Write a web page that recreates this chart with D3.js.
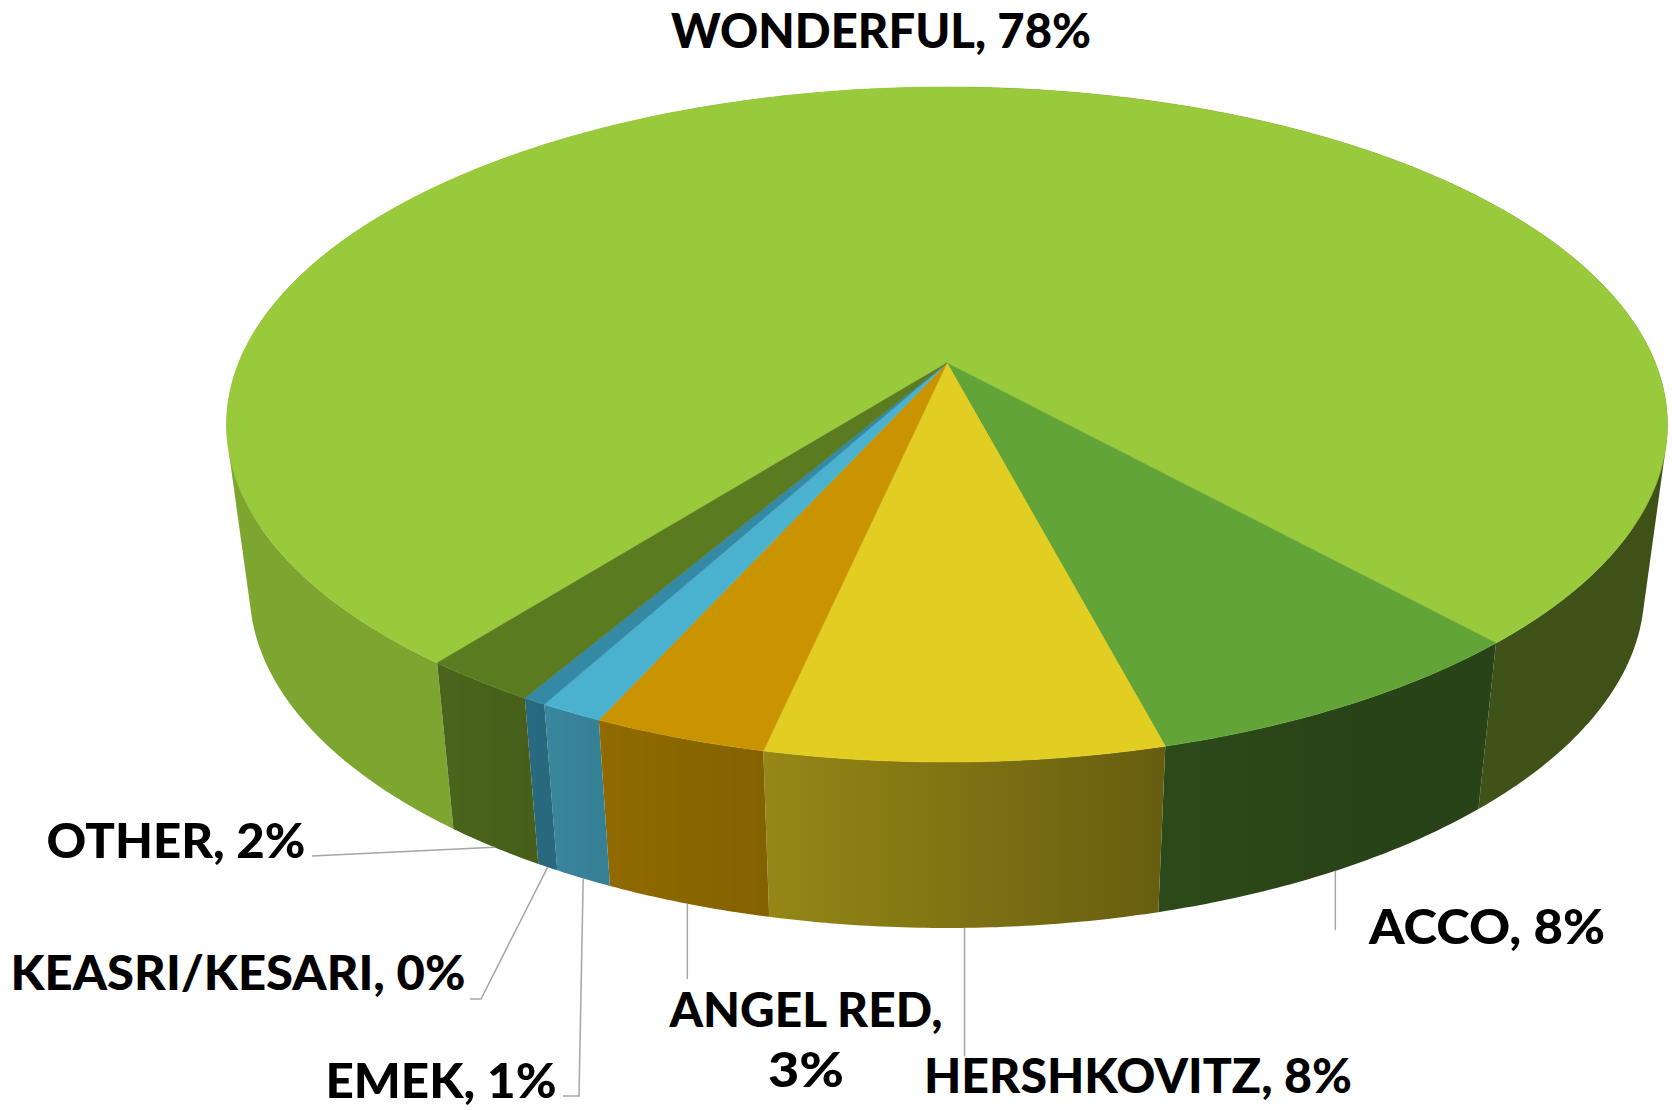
<!DOCTYPE html>
<html>
<head>
<meta charset="utf-8">
<script src="https://cdn.jsdelivr.net/npm/d3@7"></script>
<style>
  body { margin: 0; background: #fff; }
  svg { display: block; }
  text { font-family: Lato, "Noto Sans", sans-serif; font-weight: 900; fill: #000; }
</style>
</head>
<body>
<script>
// data
var categories = ["WONDERFUL", "ACCO", "HERSHKOVITZ", "ANGEL RED", "EMEK", "KEASRI/KESARI", "OTHER"];
var shares = [77.7, 7.6, 7.5, 3.3, 1.2, 0.45, 2.2];
var topColors = ["#99CA3B", "#62A437", "#E2CD22", "#C99400", "#4AB1CE", "#3489A5", "#5B7B21"];

var w = 1672, h = 1110;
var svg = d3.select("body").append("svg").attr("width", w).attr("height", h);
var defs = svg.append("defs");

// perspective of the 3d pie (fitted to the reference)
var cx = 947, cy = 363, A = 708.4, B = 326.3, k = 0.1822;
var wallDrop = 166, wallScale = 0.968;
var firstSlice = 128.06; // degrees, clockwise from 3 o'clock

function topPt(a) {
    var t = a - Math.PI / 2;
    var u = Math.cos(t), v = Math.sin(t), d = 1 - k * v;
    return [cx + A * u / d, cy + B * v / d];
}
function botPt(a) {
    var p = topPt(a);
    return [cx + wallScale * (p[0] - cx), p[1] + wallDrop];
}

// side shading: light from the left
var shade = d3.scaleLinear()
    .domain([-90, 60, 75, 102, 114, 119, 128, 270])
    .range([0.40, 0.41, 0.45, 0.66, 0.72, 0.77, 0.82, 0.82])
    .clamp(true);

function darken(col, f) {
    var c = d3.rgb(col);
    return d3.rgb(c.r * f, c.g * f, c.b * f).formatHex();
}
function toDeg(a) { // d3 angle -> degrees from 3 o'clock in [-90, 270)
    return ((a * 180 / Math.PI - 90) % 360 + 450) % 360 - 90;
}

var data = categories.map(function(c, i) { return { name: c, value: shares[i], color: topColors[i] }; });
var start = (firstSlice + 90) * Math.PI / 180;
var pie = d3.pie().sort(null).value(function(d) { return d.value; })
    .startAngle(start).endAngle(start + 2 * Math.PI);
var arcs = pie(data);
var total = d3.sum(shares);
var pct = d3.format(".0%");
var line = d3.line();

// wall pieces: split each slice where it passes the back (12 o'clock)
var pieces = [];
arcs.forEach(function(a, i) {
    var cuts = [a.startAngle];
    var turn = Math.ceil(a.startAngle / (2 * Math.PI)) * 2 * Math.PI;
    while (turn < a.endAngle) { if (turn > a.startAngle) cuts.push(turn); turn += 2 * Math.PI; }
    cuts.push(a.endAngle);
    for (var j = 0; j < cuts.length - 1; j++) pieces.push({ a0: cuts[j], a1: cuts[j + 1], color: a.data.color, id: "wall" + i + "_" + j });
});

function arcAngles(a0, a1, stepDeg) {
    var n = Math.max(2, Math.ceil((a1 - a0) / (stepDeg * Math.PI / 180)));
    return d3.range(n + 1).map(function(i) { return a0 + (a1 - a0) * i / n; });
}

pieces.forEach(function(p) {
    // gradient along x, sampled on the visible front part only
    var samples = d3.range(41).map(function(i) { return p.a0 + (p.a1 - p.a0) * i / 40; })
        .filter(function(a) { var d = toDeg(a); return d > -12 && d < 192; });
    if (samples.length < 2) samples = [p.a0, p.a1];
    var xs = samples.map(function(a) { return topPt(a)[0]; });
    var x0 = d3.min(xs), x1 = d3.max(xs);
    if (x1 - x0 < 1) x1 = x0 + 1;
    var stops = samples.map(function(a, i) {
        return { off: (xs[i] - x0) / (x1 - x0), col: darken(p.color, shade(toDeg(a))) };
    }).sort(function(s, t) { return s.off - t.off; });
    var g = defs.append("linearGradient").attr("id", p.id)
        .attr("gradientUnits", "userSpaceOnUse")
        .attr("x1", x0).attr("x2", x1).attr("y1", 0).attr("y2", 0);
    g.selectAll("stop").data(stops).enter().append("stop")
        .attr("offset", function(s) { return s.off; })
        .attr("stop-color", function(s) { return s.col; });
});

// each wall piece is a union of small quads, all wound the same way
function wallPath(p) {
    var as = arcAngles(p.a0, p.a1, 0.5), d = "";
    for (var i = 0; i < as.length - 1; i++) {
        var q = [topPt(as[i]), topPt(as[i + 1]), botPt(as[i + 1]), botPt(as[i])];
        if (d3.polygonArea(q) < 0) q.reverse();
        d += line(q) + "Z";
    }
    return d;
}

svg.append("g").selectAll("path")
    .data(pieces)
    .enter().append("path")
    .attr("d", wallPath)
    .attr("fill-rule", "nonzero")
    .attr("fill", function(p) { return "url(#" + p.id + ")"; });

// top faces
svg.append("g").selectAll("path")
    .data(arcs)
    .enter().append("path")
    .attr("d", function(a) {
        return line([[cx, cy]].concat(arcAngles(a.startAngle, a.endAngle, 0.25).map(topPt))) + "Z";
    })
    .attr("fill", function(a) { return a.data.color; })
    .attr("stroke", function(a) { return a.data.color; })
    .attr("stroke-width", 0.6);

// label layout (one entry per category)
var labelLayout = [
    { x: 881, y: 48, width: 420, leader: null },
    { x: 1487, y: 944, width: 236, leader: [930] },
    { x: 1138, y: 1093, width: 428, leader: [1056] },
    { x: 806, y: 1027, width: 273, width2: 76, leader: [979] },
    { x: 441, y: 1098, width: 231, leader: [[579, 1096], [563, 1096]] },
    { x: 238, y: 990, width: 455, leader: [[481, 999], [470, 999]] },
    { x: 176, y: 858, width: 259, leader: [[312, 856]] }
];

var leaders = svg.append("g").attr("fill", "none").attr("stroke", "#A6A6A6").attr("stroke-width", 1.5);
arcs.forEach(function(a, i) {
    var lay = labelLayout[i];
    if (!lay.leader) return;
    var s = botPt((a.startAngle + a.endAngle) / 2);
    var pts = [s];
    if (typeof lay.leader[0] === "number") pts.push([s[0], lay.leader[0]]);
    else pts = pts.concat(lay.leader);
    leaders.append("path").attr("d", line(pts));
});

var fs = 47;
arcs.forEach(function(a, i) {
    var lay = labelLayout[i];
    var t = svg.append("text").attr("font-size", fs).attr("text-anchor", "middle");
    if (lay.width2) {
        t.append("tspan").attr("x", lay.x).attr("y", lay.y)
            .attr("textLength", lay.width).attr("lengthAdjust", "spacingAndGlyphs")
            .text(a.data.name + ",");
        t.append("tspan").attr("x", lay.x).attr("y", lay.y + 60)
            .attr("textLength", lay.width2).attr("lengthAdjust", "spacingAndGlyphs")
            .text(pct(a.data.value / total));
    } else {
        t.attr("x", lay.x).attr("y", lay.y)
            .attr("textLength", lay.width).attr("lengthAdjust", "spacingAndGlyphs")
            .text(a.data.name + ", " + pct(a.data.value / total));
    }
});
</script>
</body>
</html>
